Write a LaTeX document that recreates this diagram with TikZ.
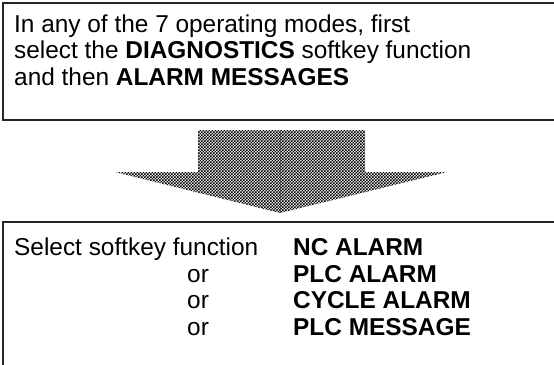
\documentclass[tikz,border=0pt]{standalone}
\usepackage{fontspec}
\setmainfont{Liberation Sans}
\usetikzlibrary{patterns}
\pgfdeclarepatternformonly{finechecker}{\pgfqpoint{-.05pt}{-.05pt}}{\pgfqpoint{3.05pt}{3.05pt}}{\pgfqpoint{3pt}{3pt}}{%
  \pgfpathrectangle{\pgfqpoint{0pt}{0pt}}{\pgfqpoint{1.55pt}{1.55pt}}%
  \pgfpathrectangle{\pgfqpoint{1.5pt}{1.5pt}}{\pgfqpoint{1.55pt}{1.55pt}}%
  \pgfusepath{fill}}
\begin{document}
\begin{tikzpicture}[x=1pt,y=-1pt,
  boxline/.style={line width=2pt,draw=black!85},
  txt/.style={anchor=base west,inner sep=0pt,font=\fontsize{24.4}{27}\selectfont},
  btxt/.style={txt,font=\fontsize{24.4}{27}\selectfont\bfseries},
  bigarrow/.style={pattern=finechecker,pattern color=black}]
\useasboundingbox (0,0) rectangle (554,364);
\clip (0,0) rectangle (554,364);
% top box
\draw[boxline] (3,3) rectangle (570,120);
\node[txt] (t1) at (14,32) {In any of the 7 operating modes, first};
\node[txt] (t2) at (14,58) {select the \textbf{DIAGNOSTICS} softkey function};
\node[txt] (t3) at (14,85) {and then \textbf{ALARM MESSAGES}};
% block arrow
\fill[bigarrow] (198,130) -- (365,130) -- (365,172) -- (447,172) -- (280,213)
  -- (115,172) -- (198,172) -- cycle;
\draw[black!70,line width=0.8pt] (280,130) -- (280,213);
% bottom box
\draw[boxline] (3,380) -- (3,222) -- (570,222);
\node[txt] (s0) at (14,255) {Select softkey function};
\node[btxt] (a1) at (293,255) {NC ALARM};
\node[txt] (o1) at (187,282) {or};
\node[btxt] (a2) at (293,282) {PLC ALARM};
\node[txt] (o2) at (187,308) {or};
\node[btxt] (a3) at (293,308) {CYCLE ALARM};
\node[txt] (o3) at (187,335) {or};
\node[btxt] (a4) at (293,335) {PLC MESSAGE};
\end{tikzpicture}
\end{document}
